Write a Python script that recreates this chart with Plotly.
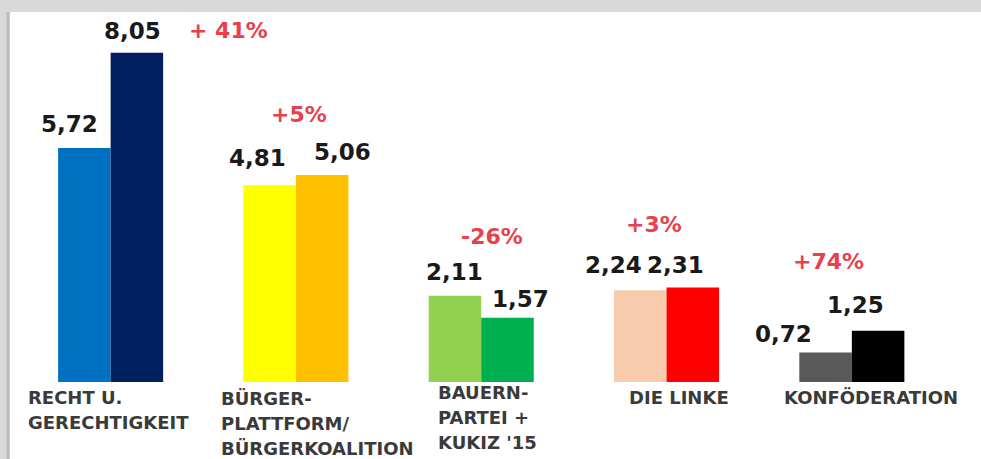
import plotly.graph_objects as go

# ---- data ----
parties = ["RECHT U. GERECHTIGKEIT", "BÜRGER-PLATTFORM/BÜRGERKOALITION",
           "BAUERN-PARTEI + KUKIZ '15", "DIE LINKE", "KONFÖDERATION"]
party_label_lines = [["RECHT U.", "GERECHTIGKEIT"],
                     ["BÜRGER-", "PLATTFORM/", "BÜRGERKOALITION"],
                     ["BAUERN-", "PARTEI +", "KUKIZ '15"],
                     ["DIE LINKE"],
                     ["KONFÖDERATION"]]
values_old = [5.72, 4.81, 2.11, 2.24, 0.72]
values_new = [8.05, 5.06, 1.57, 2.31, 1.25]
change_labels = ["+ 41%", "+5%", "-26%", "+3%", "+74%"]

# ---- styles ----
colors_old = ["#0070c0", "#ffff00", "#92d050", "#f8cbad", "#595959"]
colors_new = ["#002060", "#ffc000", "#00b050", "#ff0000", "#000000"]
FONT = "DejaVu Sans"
BAR_HALF_OFFSET = 0.142          # half of one bar width in category units
val_xshift_old = [-15, -12, 0, -27, -42]
val_xshift_new = [-4, 20, 13, -17, -23]
val_yshift_old = [24, 27, 24, 25, 19]
val_yshift_new = [22, 23, 19, 23, 26]
pct_xshift = [118, 3, 11, -13, -23]
pct_yshift = [22, 61, 59, 63, 69]
lab_xshift = [-85, -77, -45, -40, -70]
lab_yshift = [-3, -4, 2, -3, -3]
LINE_STEP = 25
W, H, ML, MT = 981, 459, 10, 12
PW, PH = W - ML, H - MT

x = list(range(len(parties)))

fig = go.Figure()
fig.add_trace(go.Bar(x=x, y=values_old, marker=dict(color=colors_old, line=dict(width=0)),
                     name="alt", hoverinfo="skip"))
fig.add_trace(go.Bar(x=x, y=values_new, marker=dict(color=colors_new, line=dict(width=0)),
                     name="neu", hoverinfo="skip"))

ann = []
for i in x:
    for v, off, xs, ys in ((values_old[i], -BAR_HALF_OFFSET, val_xshift_old[i], val_yshift_old[i]),
                           (values_new[i], BAR_HALF_OFFSET, val_xshift_new[i], val_yshift_new[i])):
        ann.append(dict(x=i + off, y=v, xref="x", yref="y",
                        text=f"{v:.2f}".replace(".", ","), showarrow=False,
                        xanchor="center", yanchor="middle", xshift=xs, yshift=ys,
                        font=dict(family=FONT, size=23, color="#1a1a1a", weight="bold")))
    ann.append(dict(x=i, y=max(values_old[i], values_new[i]), xref="x", yref="y",
                    text=change_labels[i], showarrow=False,
                    xanchor="center", yanchor="middle",
                    xshift=pct_xshift[i], yshift=pct_yshift[i],
                    font=dict(family=FONT, size=22, color="#e8404c", weight="bold")))
    for k, line in enumerate(party_label_lines[i]):
        ann.append(dict(x=i, y=0, xref="x", yref="y", text=line, showarrow=False,
                        xanchor="left", yanchor="top", align="left",
                        xshift=lab_xshift[i], yshift=lab_yshift[i] - k * LINE_STEP,
                        font=dict(family=FONT, size=18, color="#3a3a3a", weight="bold")))

frame = [
    # top grey strip
    dict(type="rect", xref="paper", yref="paper", x0=-ML / PW, x1=1.01, y0=1, y1=1 + MT / PH,
         fillcolor="#d9d9d9", line=dict(width=0), layer="above"),
    # left grey strip
    dict(type="rect", xref="paper", yref="paper", x0=-ML / PW, x1=0, y0=-0.01, y1=1 + MT / PH,
         fillcolor="#d9d9d9", line=dict(width=0), layer="above"),
    # darker frame line
    dict(type="line", xref="paper", yref="paper", x0=-2 / PW, x1=-2 / PW, y0=-0.01, y1=1.0,
         line=dict(color="#bdbdbd", width=3), layer="above"),
]

fig.update_layout(
    width=W, height=H,
    margin=dict(l=ML, r=0, t=MT, b=0),
    paper_bgcolor="#ffffff", plot_bgcolor="#ffffff",
    barmode="group", bargap=0.433, bargroupgap=0,
    showlegend=False,
    annotations=ann,
    xaxis=dict(range=[-0.543, 4.697], showgrid=False, zeroline=False,
               showticklabels=False, ticks="", fixedrange=True),
    yaxis=dict(range=[-1.883, 9.046], showgrid=False, zeroline=False,
               showticklabels=False, ticks="", fixedrange=True),
    shapes=frame,
)

fig.write_html("out.html", config={"displayModeBar": False},
               post_script="document.documentElement.style.overflow='hidden';"
                           "document.body.style.margin='0';document.body.style.overflow='hidden';")
